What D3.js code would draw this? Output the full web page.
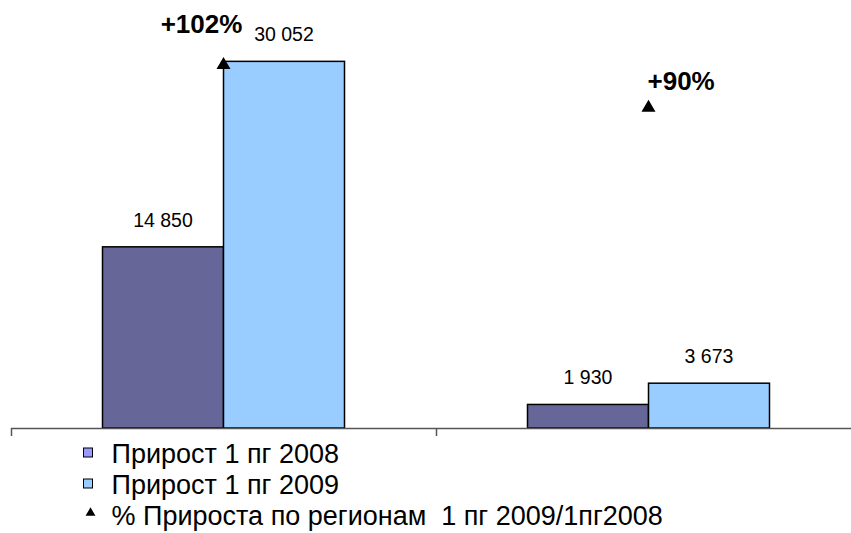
<!DOCTYPE html>
<html>
<head>
<meta charset="utf-8">
<script src="https://cdn.jsdelivr.net/npm/d3@7"></script>
<style>
  html, body { margin: 0; padding: 0; background: #fff; }
  svg { display: block; font-family: Arial, "Liberation Sans", sans-serif; }
  text { white-space: pre; }
</style>
</head>
<body>
<svg id="chart" width="851" height="533"></svg>
<script>
// Regions (two categories, no visible names)
const categories = ["A", "B"];
// Growth, 1st half-year 2008 and 2009
const growth2008 = [14850, 1930];
const growth2009 = [30052, 3673];
// Growth ratio 1H2009 / 1H2008, percent
const growthPct = [102, 90];
const pctLabels = ["+102%", "+90%"];
const seriesNames = ["Прирост 1 пг 2008", "Прирост 1 пг 2009", "% Прироста по регионам  1 пг 2009/1пг2008"];

const W = 851, H = 533;
const svg = d3.select("#chart");

const x0 = d3.scaleBand().domain(categories).range([11, 861]).paddingInner(0).paddingOuter(0);
const innerPad = 91.5;
const x1 = d3.scaleBand().domain([0, 1]).range([innerPad, x0.bandwidth() - innerPad]);
const y = d3.scaleLinear().domain([0, 35000]).range([428, 1]);
const y2 = d3.scaleLinear().domain([0, 120]).range([428, 1]);

const fmt = v => d3.format(",")(v).replace(/,/g, " ");
const colors = ["#666699", "#99CCFF"];
const legendColors = ["#9999FF", "#99CCFF"];

// Bars with value labels
const series = [growth2008, growth2009];
const groups = svg.selectAll("g.cat").data(categories).join("g")
  .attr("class", "cat")
  .attr("transform", d => `translate(${x0(d)},0)`);

groups.each(function(cat, ci) {
  const g = d3.select(this);
  series.forEach((vals, si) => {
    const v = vals[ci];
    g.append("rect")
      .attr("x", x1(si))
      .attr("y", y(v))
      .attr("width", x1.bandwidth())
      .attr("height", y(0) - y(v))
      .attr("fill", colors[si])
      .attr("stroke", "#000")
      .attr("stroke-width", 1.5);
    g.append("text")
      .attr("x", x1(si) + x1.bandwidth() / 2)
      .attr("y", y(v) - 20)
      .attr("text-anchor", "middle")
      .attr("font-size", 19.5)
      .attr("fill", "#000")
      .text(fmt(v));
  });
});

// Category axis
const axis = svg.append("g");
axis.append("line")
  .attr("x1", x0.range()[0]).attr("x2", W)
  .attr("y1", y(0) + 0.5).attr("y2", y(0) + 0.5)
  .attr("stroke", "#555").attr("stroke-width", 1.5);
categories.forEach(c => {
  axis.append("line")
    .attr("x1", x0(c) + 0.5).attr("x2", x0(c) + 0.5)
    .attr("y1", y(0)).attr("y2", y(0) + 8)
    .attr("stroke", "#555").attr("stroke-width", 1.5);
});

// Percent markers (secondary scale)
const tri = d3.symbol().type(d3.symbolTriangle).size(85);
const pctOffsets = [[-22, -32], [-1, -18]];
categories.forEach((c, i) => {
  const cx = x0(c) + x0.bandwidth() / 2;
  const cy = y2(growthPct[i]);
  svg.append("path")
    .attr("d", tri)
    .attr("transform", `translate(${cx},${cy})`)
    .attr("fill", "#000");
  svg.append("text")
    .attr("x", cx + pctOffsets[i][0])
    .attr("y", cy + pctOffsets[i][1])
    .attr("text-anchor", i === 0 ? "middle" : "start")
    .attr("font-size", 26)
    .attr("font-weight", "bold")
    .attr("fill", "#000")
    .text(pctLabels[i]);
});

// Legend
const legend = svg.append("g").attr("transform", "translate(83,0)");
const rowY = [463, 494, 525];
seriesNames.forEach((name, i) => {
  if (i < 2) {
    legend.append("rect")
      .attr("x", 0.5).attr("y", rowY[i] - 15)
      .attr("width", 9).attr("height", 9)
      .attr("fill", legendColors[i])
      .attr("stroke", "#000").attr("stroke-width", 1);
  } else {
    legend.append("path")
      .attr("d", d3.symbol().type(d3.symbolTriangle).size(42))
      .attr("transform", `translate(7.5,${rowY[i] - 12})`)
      .attr("fill", "#000");
  }
  legend.append("text")
    .attr("x", 28.5).attr("y", rowY[i])
    .attr("font-size", 27)
    .attr("fill", "#000")
    .text(name);
});
</script>
</body>
</html>
